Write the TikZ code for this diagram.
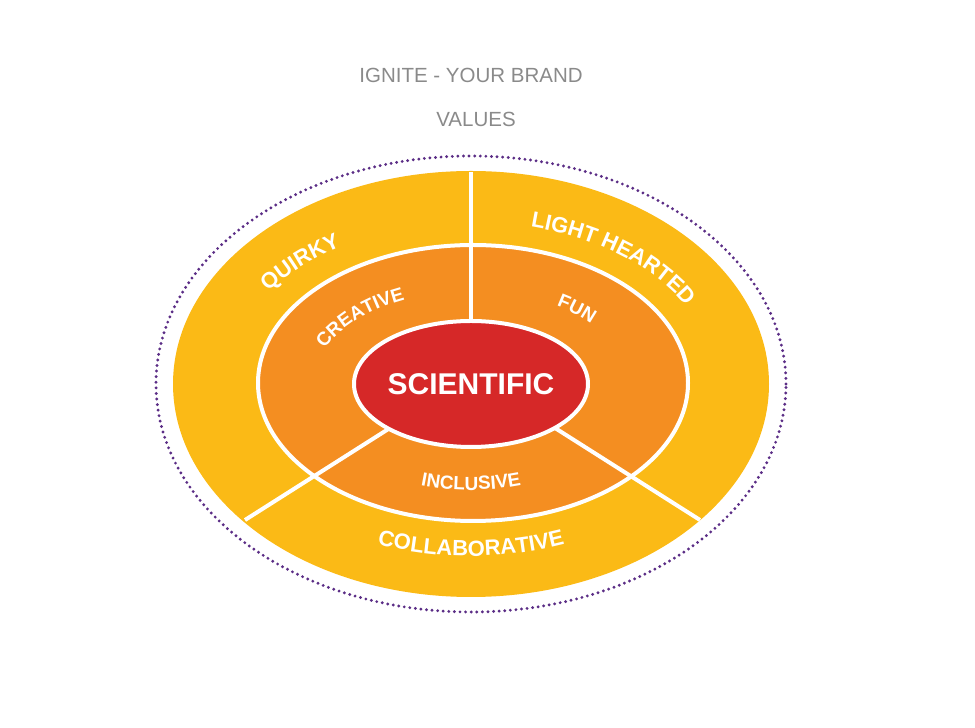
\documentclass[tikz,border=0pt]{standalone}
\usepackage{fontspec}
\setmainfont{Liberation Sans}
\usetikzlibrary{decorations.text}
\definecolor{ylw}{HTML}{FBBA16}
\definecolor{org}{HTML}{F48E21}
\definecolor{rd}{HTML}{D62828}
\definecolor{prp}{HTML}{5B2D86}
\definecolor{gry}{HTML}{8A8A8A}
\begin{document}
\begin{tikzpicture}[x=1pt,y=1pt,
  ring/.style={draw=white,line width=4pt},
  divider/.style={white,line width=4pt},
  lbl/.style args={#1/#2}{decorate,decoration={text along path,text align=center,
     text={|\color{white}\bfseries\fontsize{#1}{#1}\selectfont|#2}}}]
\useasboundingbox (0,0) rectangle (975,728);
\coordinate (c) at (471,344);
\node[gry,font=\fontsize{20.5}{20.5}\selectfont] (t1) at (471,653) {IGNITE - YOUR BRAND};
\node[gry,font=\fontsize{20.5}{20.5}\selectfont] (t2) at (476,609) {VALUES};
\draw[prp,line width=3.2pt,line cap=round,dash pattern=on 0pt off 5.6pt] (c) ellipse [x radius=315,y radius=228];
\fill[ylw] (c) ellipse [x radius=298,y radius=213];
\draw[ring,fill=org] (473,345) ellipse [x radius=215,y radius=138];
\draw[divider] (471,556) -- (471,400);
\draw[divider] (390,300) -- (245,208);
\draw[divider] (555,300) -- (700,208);
\draw[ring,fill=rd] (c) ellipse [x radius=117,y radius=63];
\node[white,font=\bfseries\fontsize{30}{30}\selectfont] (sci) at (471,344) {SCIENTIFIC};
\path[lbl=22/QUIRKY] (c) ++(172:246 and 162) arc [start angle=172,end angle=102,x radius=246,y radius=162];
\path[lbl=22/LIGHT HEARTED] (c) ++(100:246 and 162) arc [start angle=100,end angle=-6,x radius=246,y radius=162];
\path[lbl=22/COLLABORATIVE] (c) ++(200:258 and 172) arc [start angle=200,end angle=340,x radius=258,y radius=172];
\path[lbl=19/CREATIVE] (c) ++(205:158 and 93) arc [start angle=205,end angle=85,x radius=158,y radius=93];
\path[lbl=19/FUN] (c) ++(78:158 and 93) arc [start angle=78,end angle=12,x radius=158,y radius=93];
\path[lbl=19/INCLUSIVE] (c) ++(210:168 and 106) arc [start angle=210,end angle=330,x radius=168,y radius=106];
\end{tikzpicture}
\end{document}
